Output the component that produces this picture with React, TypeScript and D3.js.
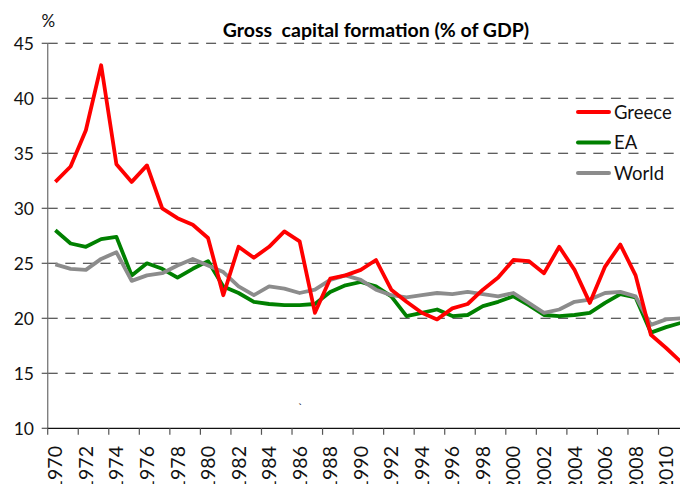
import React from "react";
import * as d3 from "d3";

const years: number[] = d3.range(1970, 2012);
const greece: number[] = [
  32.4, 33.8, 37.1, 43.0, 34.0, 32.4, 33.9, 30.0, 29.1, 28.5,
  27.3, 22.1, 26.5, 25.5, 26.5, 27.9, 27.0, 20.5, 23.6, 23.9,
  24.4, 25.3, 22.6, 21.5, 20.5, 19.9, 20.9, 21.3, 22.6, 23.7,
  25.3, 25.2, 24.1, 26.5, 24.4, 21.4, 24.7, 26.7, 23.9, 18.5,
  17.3, 16.0,
];
const ea: number[] = [
  28.0, 26.8, 26.5, 27.2, 27.4, 23.9, 25.0, 24.5, 23.7, 24.5,
  25.2, 22.9, 22.3, 21.5, 21.3, 21.2, 21.2, 21.3, 22.4, 23.0,
  23.3, 22.9, 22.0, 20.2, 20.5, 20.8, 20.2, 20.3, 21.1, 21.5,
  22.0, 21.2, 20.3, 20.2, 20.3, 20.5, 21.4, 22.2, 21.9, 18.7,
  19.2, 19.6,
];
const world: number[] = [
  24.9, 24.5, 24.4, 25.4, 26.0, 23.4, 23.9, 24.1, 24.8, 25.4,
  24.8, 24.2, 22.9, 22.1, 22.9, 22.7, 22.3, 22.6, 23.5, 23.9,
  23.5, 22.6, 22.1, 21.9, 22.1, 22.3, 22.2, 22.4, 22.2, 22.0,
  22.3, 21.4, 20.5, 20.8, 21.5, 21.7, 22.3, 22.4, 22.0, 19.4,
  19.9, 20.0,
];
const yTicks: number[] = [10, 15, 20, 25, 30, 35, 40, 45];
const seriesNames: string[] = ["Greece", "EA", "World"];
const seriesColors: string[] = ["#ff0000", "#008000", "#8c8c8c"];

const FONT = "Lato, 'Open Sans', sans-serif";

export default function App() {
  const W = 680;
  const H = 484;
  const left = 47.7;
  const band = 15.27;
  const allCats = d3.range(1970, 2013);
  const x = d3
    .scaleBand<number>()
    .domain(allCats)
    .range([left, left + band * allCats.length])
    .paddingInner(0)
    .paddingOuter(0);
  const y = d3.scaleLinear().domain([10, 45]).range([428.3, 43.3]);
  const cx = (yr: number) => (x(yr) as number) + x.bandwidth() / 2;

  const line = d3
    .line<number>()
    .x((_, i) => cx(years[i]))
    .y((v) => y(v));

  const data = [greece, ea, world];
  const drawOrder = [1, 2, 0];
  const evenYears = allCats.filter((yr) => yr % 2 === 0);
  const legendY = [112, 142.5, 173];

  return (
    <svg
      width={W}
      height={H}
      style={{ position: "absolute", left: 0, top: 0, background: "#fff" }}
    >
      <rect x={0} y={0} width={W} height={H} fill="#fff" />
      {yTicks
        .filter((t) => t > 10)
        .map((t) => (
          <line
            key={"g" + t}
            x1={left}
            x2={W}
            y1={y(t)}
            y2={y(t)}
            stroke="#2a2a2a"
            strokeWidth={1.1}
            strokeDasharray="10,7.6"
          />
        ))}
      <line x1={left} x2={left} y1={y(45)} y2={y(10)} stroke="#808080" strokeWidth={1.4} />
      {yTicks.map((t) => (
        <g key={"yt" + t}>
          <line x1={left - 6} x2={left} y1={y(t)} y2={y(t)} stroke="#555" strokeWidth={1.2} />
          <text
            x={34}
            y={y(t)}
            dy="0.36em"
            textAnchor="end"
            fontFamily={FONT}
            fontSize={17.5}
            fill="#111"
          >
            {t}
          </text>
        </g>
      ))}
      <line x1={left} x2={W} y1={y(10)} y2={y(10)} stroke="#111" strokeWidth={1.3} />
      {evenYears.map((yr) => (
        <g key={"xt" + yr}>
          <line
            x1={x(yr) as number}
            x2={x(yr) as number}
            y1={y(10)}
            y2={y(10) + 6.5}
            stroke="#555"
            strokeWidth={1.2}
          />
          <text
            transform={`translate(${cx(yr)},446) rotate(-90)`}
            textAnchor="end"
            dy="0.36em"
            fontFamily={FONT}
            fontSize={19.5}
            fill="#111"
          >
            {yr}
          </text>
        </g>
      ))}
      {drawOrder.map((si) => (
        <path
          key={"s" + si}
          d={line(data[si]) as string}
          fill="none"
          stroke={seriesColors[si]}
          strokeWidth={3.8}
          strokeLinejoin="round"
        />
      ))}
      {seriesNames.map((n, i) => (
        <g key={"lg" + n}>
          <line
            x1={578}
            x2={609}
            y1={legendY[i]}
            y2={legendY[i]}
            stroke={seriesColors[i]}
            strokeWidth={4}
            strokeLinecap="round"
          />
          <text
            x={614}
            y={legendY[i]}
            dy="0.36em"
            fontFamily={FONT}
            fontSize={18.5}
            fill="#111"
          >
            {n}
          </text>
        </g>
      ))}
      <text
        x={376}
        y={36.5}
        textAnchor="middle"
        fontFamily={FONT}
        fontWeight="bold"
        fontSize={19.5}
        fill="#000"
        style={{ whiteSpace: "pre" }}
      >
        {"Gross  capital formation (% of GDP)"}
      </text>
      <text x={41.5} y={26.5} fontFamily={FONT} fontSize={17} fill="#111">
        %
      </text>
      <text x={298} y={412} fontFamily={FONT} fontSize={12} fill="#111">
        `
      </text>
    </svg>
  );
}
